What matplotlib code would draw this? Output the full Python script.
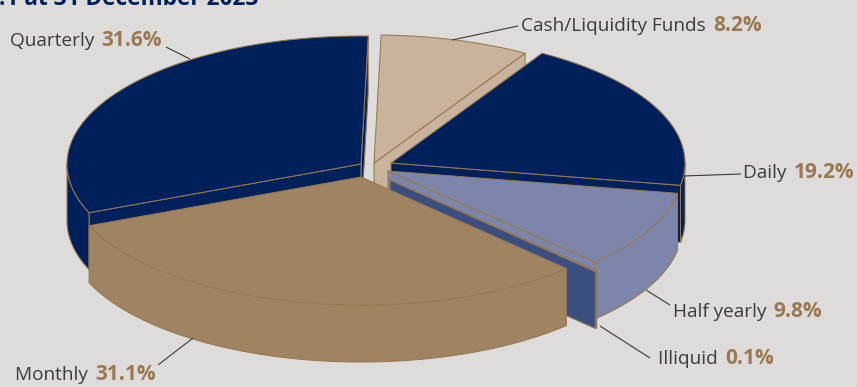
import numpy as np
import matplotlib
matplotlib.use("Agg")
import matplotlib.pyplot as plt

# Liquidity breakdown, listed anticlockwise from the top of the pie
categories = ["Quarterly", "Monthly", "Illiquid", "Half yearly", "Daily", "Cash/Liquidity Funds"]
shares = [31.6, 31.1, 0.1, 9.8, 19.2, 8.2]
top_colours = ["#00205b", "#a08462", "#3a4e80", "#7d85aa", "#00205b", "#c9b39c"]
slice_centres = [(361, 164), (361, 177), (390, 180), (388, 171), (391, 163), (374, 163)]

# Back-to-front drawing order (indices into the lists above)
draw_order = [0, 5, 4, 3, 2, 1]

BG = "#dddcdb"
EDGE = "#97784f"
TEXT = "#3c3c3c"
VALUE = "#9a7850"
NAVY = "#00205b"
RX, RY, DEPTH = 294, 128, 57
START_ANGLE = 88.6

plt.rcParams["font.family"] = ["Open Sans", "Noto Sans", "DejaVu Sans"]

fig = plt.figure(figsize=(8.57, 3.87), dpi=100, facecolor=BG)
ax = fig.add_axes([0, 0, 1, 1])
ax.set_xlim(0, 857)
ax.set_ylim(387, 0)
ax.axis("off")


def rim(centre, a0, a1):
    """Projected outer arc between two angles, in degrees."""
    t = np.radians(np.linspace(a0, a1, max(int(abs(a1 - a0)) * 2, 2) + 1))
    return centre[0] + RX * np.cos(t), centre[1] - RY * np.sin(t)


def front_spans(a0, a1):
    """Parts of an arc on the viewer's side of the pie."""
    spans = []
    for k in range(-1, 3):
        lo, hi = max(a0, 180 + 360 * k), min(a1, 360 + 360 * k)
        if hi > lo:
            spans.append((lo, hi))
    return spans


def draw_slice(i, a0, a1):
    cx, cy = slice_centres[i]
    col = top_colours[i]
    x, y = rim((cx, cy), a0, a1)
    style = dict(facecolor=col, edgecolor=EDGE, linewidth=0.75, joinstyle="round")
    # radial cut faces, only those turned towards the viewer
    if np.sin(np.radians(a0 - 90)) < 0:
        ax.fill([cx, x[0], x[0], cx], [cy, y[0], y[0] + DEPTH, cy + DEPTH], **style)
    if np.sin(np.radians(a1 + 90)) < 0:
        ax.fill([cx, x[-1], x[-1], cx], [cy, y[-1], y[-1] + DEPTH, cy + DEPTH], **style)
    # outer wall, then the top surface over it
    for lo, hi in front_spans(a0, a1):
        wx, wy = rim((cx, cy), lo, hi)
        ax.fill(np.r_[wx, wx[::-1]], np.r_[wy, wy[::-1] + DEPTH], **style)
    ax.fill(np.r_[cx, x], np.r_[cy, y], **style)


angles = START_ANGLE + np.r_[0, np.cumsum(shares)] * 3.6
for i in draw_order:
    draw_slice(i, angles[i], angles[i + 1])

# Leader lines and two-tone labels
leaders = [
    ((166, 47), (190, 59)),
    ((158, 365), (193, 338)),
    ((650, 358), (600, 326)),
    ((670, 305), (646, 290)),
    ((741, 174), (683, 176)),
    ((518, 26), (452, 40)),
]
label_anchors = [(10, 46), (15, 380), (658, 364), (673, 317), (743, 178), (521, 31)]

for (p, q) in leaders:
    ax.plot([p[0], q[0]], [p[1], q[1]], color="#3a3a3a", lw=0.8, solid_capstyle="butt")

renderer = fig.canvas.get_renderer()
for name, share, (lx, ly) in zip(categories, shares, label_anchors):
    t = ax.text(lx, ly, name + " ", fontsize=13.7, color=TEXT, va="baseline", ha="left")
    w = t.get_window_extent(renderer).width
    ax.text(lx + w + 2.5, ly, f"{share:.1f}%", fontsize=15, color=VALUE,
            fontweight="bold", va="baseline", ha="left")

# Heading, cropped by the top edge of the figure
ax.text(-1, 5, ".1 at 31 December 2023", fontsize=16.3, color=NAVY, fontweight="bold",
        va="baseline", ha="left", clip_on=True)

fig.savefig("out.png", dpi=100, facecolor=BG)
